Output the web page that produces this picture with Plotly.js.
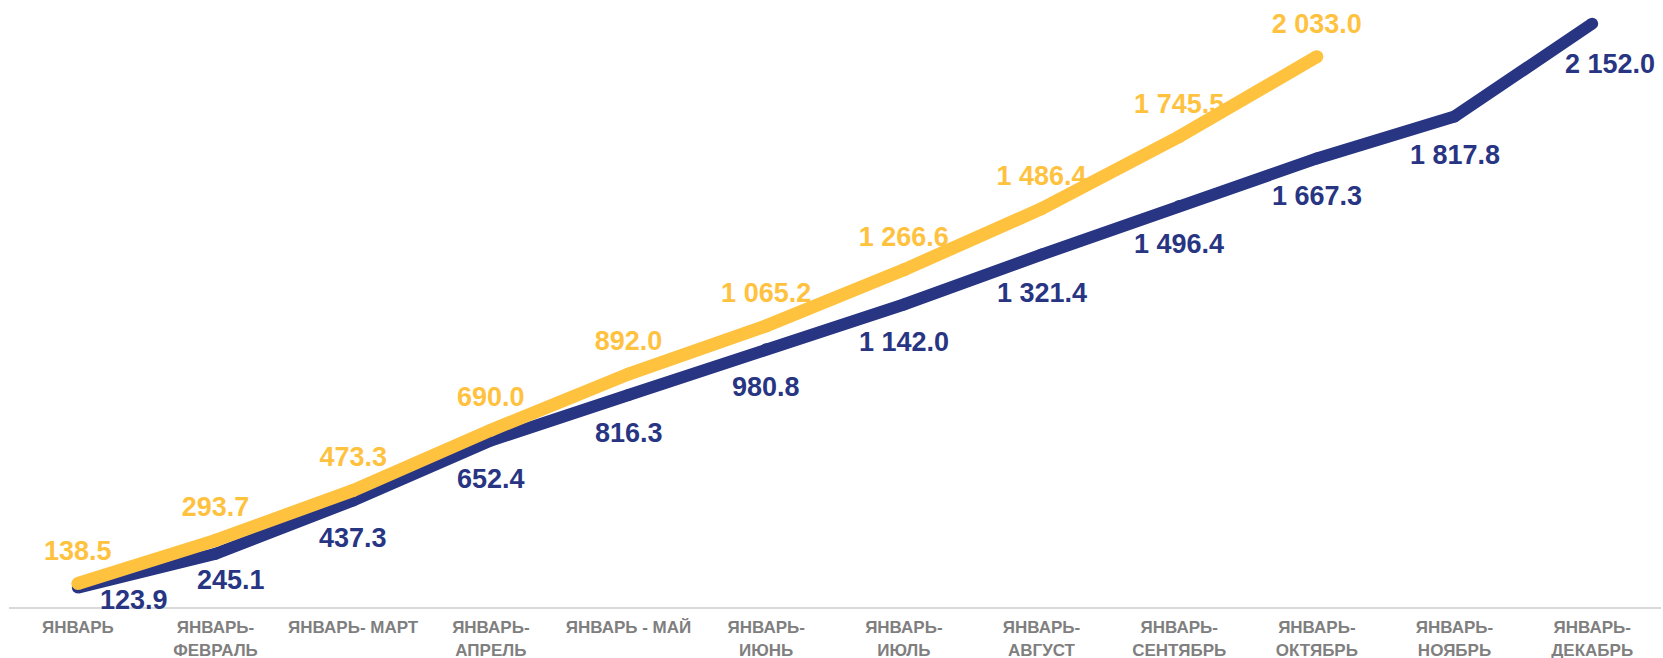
<!DOCTYPE html>
<html>
<head>
<meta charset="utf-8">
<script src="https://cdn.plot.ly/plotly-3.0.1.min.js"></script>
<style>
html,body{margin:0;padding:0;background:#fff;}
#chart{width:1663px;height:658px;}
</style>
</head>
<body>
<div id="chart"></div>
<script>
var categories = ["ЯНВАРЬ", "ЯНВАРЬ-<br>ФЕВРАЛЬ", "ЯНВАРЬ- МАРТ", "ЯНВАРЬ-<br>АПРЕЛЬ", "ЯНВАРЬ - МАЙ", "ЯНВАРЬ-<br>ИЮНЬ", "ЯНВАРЬ-<br>ИЮЛЬ", "ЯНВАРЬ-<br>АВГУСТ", "ЯНВАРЬ-<br>СЕНТЯБРЬ", "ЯНВАРЬ-<br>ОКТЯБРЬ", "ЯНВАРЬ-<br>НОЯБРЬ", "ЯНВАРЬ-<br>ДЕКАБРЬ"];
var seriesNavy = [123.9, 245.1, 437.3, 652.4, 816.3, 980.8, 1142.0, 1321.4, 1496.4, 1667.3, 1817.8, 2152.0];
var seriesYellow = [138.5, 293.7, 473.3, 690.0, 892.0, 1065.2, 1266.6, 1486.4, 1745.5, 2033.0];

var NAVY = "#283583";
var YELLOW = "#FFC23F";

function fmt(v) {
  var s = v.toFixed(1);
  var parts = s.split(".");
  var ip = parts[0].replace(/\B(?=(\d{3})+(?!\d))/g, " ");
  return ip + "." + parts[1];
}

var xN = categories.slice(0, seriesNavy.length);
var xY = categories.slice(0, seriesYellow.length);
var labelFont = {family: "Liberation Sans, Arial, sans-serif", size: 27, weight: 700};

var traces = [
  {
    x: xN, y: seriesNavy, type: "scatter", mode: "lines+markers",
    line: {color: NAVY, width: 12},
    marker: {color: NAVY, size: 12},
    hoverinfo: "skip", cliponaxis: false
  },
  {
    x: xY, y: seriesYellow, type: "scatter", mode: "markers+text",
    text: seriesYellow.map(fmt), textposition: "top center",
    textfont: Object.assign({color: YELLOW}, labelFont),
    marker: {size: 26, opacity: 0, color: YELLOW},
    hoverinfo: "skip", cliponaxis: false
  },
  {
    x: xY, y: seriesYellow, type: "scatter", mode: "lines+markers",
    line: {color: YELLOW, width: 13},
    marker: {color: YELLOW, size: 13},
    hoverinfo: "skip", cliponaxis: false
  }
];

// navy data labels as annotations (label placement nudges like the original)
var navyShift = {0: [56, -12], 1: [15, -26], 11: [18, -40]};
var annotations = seriesNavy.map(function (v, i) {
  var sh = navyShift[i] || [0, -38];
  return {
    x: xN[i], y: v, xref: "x", yref: "y",
    text: fmt(v), showarrow: false,
    xanchor: "center", yanchor: "middle",
    xshift: sh[0], yshift: sh[1],
    font: Object.assign({color: NAVY}, labelFont)
  };
});

var layout = {
  width: 1663, height: 658,
  margin: {l: 9, r: 2, t: 0, b: 51},
  paper_bgcolor: "#ffffff", plot_bgcolor: "#ffffff",
  showlegend: false,
  annotations: annotations,
  xaxis: {
    type: "category",
    categoryorder: "array", categoryarray: categories,
    range: [-0.5, 11.5],
    showgrid: false, zeroline: false,
    showline: true, linecolor: "#D9D9D9", linewidth: 2,
    ticks: "", ticklabelstandoff: 4,
    tickfont: {family: "Liberation Sans Narrow, Arial Narrow, Liberation Sans, sans-serif", size: 17, color: "#7F7F7F", weight: 700},
    fixedrange: true
  },
  yaxis: {
    range: [54, 2237],
    visible: false, showgrid: false, zeroline: false,
    fixedrange: true
  }
};

Plotly.newPlot("chart", traces, layout, {displayModeBar: false, staticPlot: true});
</script>
</body>
</html>
